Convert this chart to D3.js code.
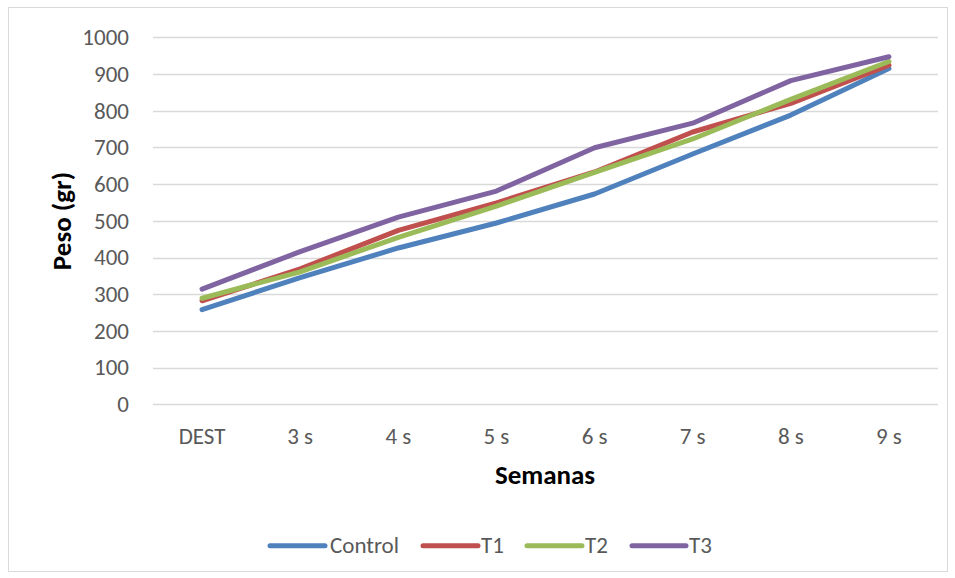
<!DOCTYPE html>
<html>
<head>
<meta charset="utf-8">
<script src="https://cdn.jsdelivr.net/npm/d3@7"></script>
<style>
  html, body { margin: 0; padding: 0; background: #ffffff; }
  svg { display: block; }
  text { font-family: Carlito, "Open Sans", "Liberation Sans", sans-serif; fill: #595959; }
</style>
</head>
<body>
<svg id="chart" width="955" height="578"></svg>
<script>
// Weekly weight (grams) per treatment group
const categories = ["DEST", "3 s", "4 s", "5 s", "6 s", "7 s", "8 s", "9 s"];
const seriesNames = ["Control", "T1", "T2", "T3"];
const seriesColors = ["#4F81BD", "#C0504D", "#9BBB59", "#8064A2"];
const controlValues = [258, 345, 426, 494, 573, 682, 788, 915];
const t1Values      = [282, 369, 474, 549, 633, 742, 820, 924];
const t2Values      = [289, 361, 455, 540, 632, 723, 831, 934];
const t3Values      = [314, 416, 510, 581, 699, 766, 882, 947];
const yTicks = [0, 100, 200, 300, 400, 500, 600, 700, 800, 900, 1000];

const seriesValues = [controlValues, t1Values, t2Values, t3Values];
const FONT = 'Carlito, "Open Sans", "Liberation Sans", sans-serif';

const svg = d3.select("#chart");

// Outer chart border
svg.append("rect")
  .attr("x", 8.5).attr("y", 7.5)
  .attr("width", 939).attr("height", 564)
  .attr("fill", "#fff").attr("stroke", "#d9d9d9").attr("stroke-width", 1);

const plot = { left: 153, right: 938, top: 37.3, bottom: 404.3 };

const x = d3.scaleBand()
  .domain(categories)
  .range([plot.left, plot.right]);

const y = d3.scaleLinear()
  .domain([0, 1000])
  .range([plot.bottom, plot.top]);

// Horizontal gridlines
svg.append("g")
  .selectAll("line")
  .data(yTicks)
  .join("line")
  .attr("x1", plot.left).attr("x2", plot.right)
  .attr("y1", d => Math.round(y(d)) + 0.5).attr("y2", d => Math.round(y(d)) + 0.5)
  .attr("stroke", "#d9d9d9").attr("stroke-width", 1.3);

// Y axis labels
const yAxis = d3.axisLeft(y).tickValues(yTicks).tickFormat(d3.format("d")).tickSize(0).tickPadding(0);
const gy = svg.append("g")
  .attr("transform", "translate(129,0)")
  .call(yAxis);
gy.select(".domain").remove();
gy.selectAll("text")
  .attr("font-size", 23)
  .attr("dy", "0.32em")
  .attr("fill", "#595959")
  .style("font-family", FONT);

// X axis labels
const xAxis = d3.axisBottom(x).tickSize(0).tickPadding(0);
const gx = svg.append("g")
  .attr("transform", "translate(0,444)")
  .call(xAxis);
gx.select(".domain").remove();
gx.selectAll("text")
  .attr("font-size", 23)
  .attr("dy", 0)
  .attr("fill", "#595959")
  .style("font-family", FONT);

// Axis titles
svg.append("text")
  .attr("x", 545).attr("y", 484)
  .attr("text-anchor", "middle")
  .attr("font-size", 27).attr("font-weight", "bold")
  .style("fill", "#000")
  .text("Semanas");

svg.append("text")
  .attr("transform", "translate(71,221) rotate(-90)")
  .attr("text-anchor", "middle")
  .attr("font-size", 27).attr("font-weight", "bold")
  .style("fill", "#000")
  .text("Peso (gr)");

// Series lines
const line = d3.line()
  .x((d, i) => x(categories[i]) + x.bandwidth() / 2)
  .y(d => y(d));

svg.append("g")
  .selectAll("path")
  .data(seriesValues)
  .join("path")
  .attr("d", d => line(d))
  .attr("fill", "none")
  .attr("stroke", (d, i) => seriesColors[i])
  .attr("stroke-width", 5)
  .attr("stroke-linecap", "round")
  .attr("stroke-linejoin", "round");

// Legend
const legendItems = [
  { x0: 270, x1: 325, tx: 330 },
  { x0: 423, x1: 478, tx: 481 },
  { x0: 527, x1: 582, tx: 585 },
  { x0: 632, x1: 686, tx: 689 }
];
const legend = svg.append("g");
const ly = 545.7;
legend.selectAll("line")
  .data(seriesNames)
  .join("line")
  .attr("x1", (d, i) => legendItems[i].x0)
  .attr("x2", (d, i) => legendItems[i].x1)
  .attr("y1", ly).attr("y2", ly)
  .attr("stroke", (d, i) => seriesColors[i])
  .attr("stroke-width", 5)
  .attr("stroke-linecap", "round");
legend.selectAll("text")
  .data(seriesNames)
  .join("text")
  .attr("x", (d, i) => legendItems[i].tx)
  .attr("y", 552.5)
  .attr("font-size", 23)
  .text(d => d);
</script>
</body>
</html>
